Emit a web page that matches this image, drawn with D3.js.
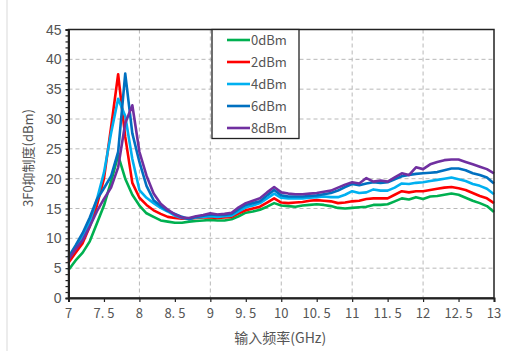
<!DOCTYPE html>
<html>
<head>
<meta charset="utf-8">
<script src="https://cdn.jsdelivr.net/npm/d3@7"></script>
<style>
  body { margin: 0; background: #fff; }
  svg { display: block; }
</style>
</head>
<body>
<div id="chart"></div>
<script>
const freqs = d3.range(0, 61).map(i => +(7 + i * 0.1).toFixed(1));
const seriesNames = ["0dBm", "2dBm", "4dBm", "6dBm", "8dBm"];
const seriesColors = ["#00b050", "#ff0000", "#00b0f0", "#0070c0", "#7030a0"];

const dBm0 = [4.7, 6.3, 7.6, 9.5, 12.5, 15.5, 19.5, 23.9, 20.0, 17.3,
  15.5, 14.2, 13.6, 13.0, 12.8, 12.6, 12.6, 12.8, 12.9, 13.0,
  13.1, 13.0, 13.0, 13.2, 13.7, 14.3, 14.5, 14.8, 15.3, 15.9,
  15.5, 15.4, 15.3, 15.5, 15.6, 15.7, 15.6, 15.4, 15.1, 15.0,
  15.1, 15.2, 15.3, 15.6, 15.6, 15.7, 16.2, 16.7, 16.5, 16.9,
  16.6, 17.0, 17.1, 17.3, 17.5, 17.3, 16.8, 16.3, 15.9, 15.4, 14.4];
const dBm2 = [5.9, 7.6, 9.2, 12.0, 15.5, 20.0, 28.6, 37.5, 27.0, 19.3,
  16.8, 15.6, 14.7, 14.1, 13.6, 13.4, 13.3, 13.3, 13.4, 13.5,
  13.5, 13.4, 13.5, 13.6, 14.2, 14.7, 15.0, 15.3, 16.0, 16.7,
  16.0, 15.9, 16.0, 16.1, 16.3, 16.4, 16.3, 16.2, 15.9, 16.0,
  16.2, 16.3, 16.6, 16.7, 16.7, 16.7, 17.3, 17.9, 17.7, 17.9,
  17.9, 18.1, 18.3, 18.5, 18.6, 18.4, 18.1, 17.6, 17.1, 16.7, 15.9];
const dBm4 = [6.7, 8.4, 10.2, 12.8, 16.5, 21.0, 27.6, 33.4, 30.5, 23.3,
  18.1, 16.8, 15.9, 15.1, 14.5, 13.8, 13.4, 13.3, 13.5, 13.6,
  13.7, 13.6, 13.7, 13.8, 14.5, 15.2, 15.5, 15.9, 16.7, 17.5,
  16.8, 16.7, 16.7, 16.7, 16.8, 16.9, 17.0, 16.9, 16.9, 17.3,
  17.9, 17.6, 17.7, 18.2, 18.0, 18.0, 18.5, 19.2, 19.1, 19.3,
  19.4, 19.6, 19.8, 20.0, 20.2, 19.9, 19.6, 19.1, 18.8, 18.3, 17.4];
const dBm6 = [6.9, 8.8, 10.9, 13.5, 16.5, 18.4, 20.4, 24.5, 37.6, 27.6,
  22.8, 18.8, 16.4, 15.4, 14.6, 14.1, 13.6, 13.2, 13.6, 13.8,
  14.0, 13.9, 13.9, 14.1, 14.9, 15.6, 15.9, 16.2, 17.2, 18.1,
  17.2, 17.0, 17.0, 17.0, 17.1, 17.2, 17.4, 17.6, 18.0, 18.6,
  19.1, 18.9, 19.2, 19.4, 19.3, 19.4, 19.9, 20.4, 20.6, 20.8,
  20.9, 21.0, 21.1, 21.4, 21.7, 21.7, 21.4, 20.9, 20.6, 20.2, 19.2];
const dBm8 = [6.4, 8.2, 9.7, 12.0, 14.5, 16.6, 18.5, 21.9, 29.3, 32.3,
  24.5, 20.5, 17.5, 15.8, 14.8, 14.0, 13.5, 13.4, 13.7, 13.9,
  14.2, 14.0, 14.1, 14.3, 15.2, 15.9, 16.3, 16.7, 17.7, 18.6,
  17.7, 17.5, 17.4, 17.4, 17.5, 17.6, 17.8, 18.0, 18.5, 19.0,
  19.4, 19.2, 20.1, 19.5, 19.7, 19.5, 20.2, 20.9, 20.6, 21.9,
  21.6, 22.4, 22.8, 23.1, 23.2, 23.2, 22.8, 22.4, 22.0, 21.6, 20.9];
const seriesValues = [dBm0, dBm2, dBm4, dBm6, dBm8];

const xTicks = d3.range(7, 13.01, 0.5);
const yTicks = d3.range(0, 46, 5);

(function () {
  const W = 509, H = 351;
  const margin = { left: 68.5, right: 494, top: 29.5, bottom: 298 };

  const svg = d3.select("#chart").append("svg")
    .attr("width", W).attr("height", H);

  // faint outer chart border on the left
  svg.append("line")
    .attr("x1", 7).attr("x2", 7).attr("y1", 0).attr("y2", H)
    .attr("stroke", "#d9d9d9");

  const x = d3.scaleLinear().domain([7, 13]).range([margin.left, margin.right]);
  const y = d3.scaleLinear().domain([0, 45]).range([margin.bottom, margin.top]);

  // grid
  svg.append("g")
    .selectAll("line")
    .data(yTicks.filter(v => v > 0 && v < 45))
    .join("line")
    .attr("x1", margin.left).attr("x2", margin.right)
    .attr("y1", d => y(d)).attr("y2", d => y(d))
    .attr("stroke", "#b8b8b8").attr("stroke-dasharray", "4,3");

  svg.append("g")
    .selectAll("line")
    .data(d3.range(8, 13))
    .join("line")
    .attr("x1", d => x(d)).attr("x2", d => x(d))
    .attr("y1", margin.top).attr("y2", margin.bottom)
    .attr("stroke", "#b8b8b8").attr("stroke-dasharray", "4,3");

  // series
  const line = d3.line()
    .x((d, i) => x(freqs[i]))
    .y(d => y(d));

  seriesValues.forEach((vals, k) => {
    svg.append("path")
      .datum(vals)
      .attr("fill", "none")
      .attr("stroke", seriesColors[k])
      .attr("stroke-width", 2.6)
      .attr("stroke-linejoin", "round")
      .attr("d", line);
  });

  // frame
  svg.append("rect")
    .attr("x", margin.left).attr("y", margin.top)
    .attr("width", margin.right - margin.left).attr("height", margin.bottom - margin.top)
    .attr("fill", "none").attr("stroke", "#222").attr("stroke-width", 1.5);

  // y axis
  const yAxis = svg.append("g")
    .attr("transform", `translate(${margin.left},0)`)
    .call(d3.axisLeft(y).tickValues(d3.range(0, 46, 1)).tickSize(3).tickFormat(""));
  yAxis.select(".domain").attr("stroke", "#222").attr("stroke-width", 2);
  yAxis.selectAll(".tick line").attr("stroke", "#222").attr("stroke-width", 1.2);

  svg.append("g")
    .selectAll("text")
    .data(yTicks)
    .join("text")
    .attr("x", margin.left - 7)
    .attr("y", d => y(d) + 5)
    .attr("text-anchor", "end")
    .attr("font-family", "Liberation Sans, Arial, sans-serif")
    .attr("font-size", 14)
    .attr("fill", "#555")
    .text(d => d);

  // x axis
  const xAxis = svg.append("g")
    .attr("transform", `translate(0,${margin.bottom})`)
    .call(d3.axisBottom(x).tickValues(xTicks).tickSize(4).tickFormat(""));
  xAxis.select(".domain").attr("stroke", "#222").attr("stroke-width", 2);
  xAxis.selectAll(".tick line").attr("stroke", "#222").attr("stroke-width", 1.2);

  svg.append("g")
    .selectAll("text")
    .data(xTicks)
    .join("text")
    .attr("x", d => x(d))
    .attr("y", margin.bottom + 20)
    .attr("text-anchor", "middle")
    .attr("font-family", "Noto Sans CJK SC, sans-serif")
    .attr("font-size", 13)
    .attr("fill", "#555")
    .text(d => String(d).replace(".", ". "));

  // axis titles
  svg.append("text")
    .attr("x", (margin.left + margin.right) / 2 - 1)
    .attr("y", 343)
    .attr("text-anchor", "middle")
    .attr("font-family", "Noto Sans CJK SC, sans-serif")
    .attr("font-size", 14)
    .attr("fill", "#555")
    .text("输入频率(GHz)");

  svg.append("text")
    .attr("transform", "translate(33,158) rotate(-90)")
    .attr("text-anchor", "middle")
    .attr("font-family", "Noto Sans CJK SC, sans-serif")
    .attr("font-size", 13)
    .attr("fill", "#555")
    .text("3F0抑制度(dBm)");

  // legend
  const legend = svg.append("g");
  legend.append("rect")
    .attr("x", 212).attr("y", margin.top)
    .attr("width", 87).attr("height", 109)
    .attr("fill", "#fff").attr("stroke", "#222").attr("stroke-width", 1.3);

  const legendY = d3.scalePoint().domain(seriesNames).range([40, 128]);
  seriesNames.forEach((name, k) => {
    legend.append("line")
      .attr("x1", 227).attr("x2", 250)
      .attr("y1", legendY(name)).attr("y2", legendY(name))
      .attr("stroke", seriesColors[k]).attr("stroke-width", 2.6);
    legend.append("text")
      .attr("x", 251).attr("y", legendY(name) + 5)
      .attr("font-family", "Noto Sans CJK SC, sans-serif")
      .attr("font-size", 13)
      .attr("fill", "#555")
      .text(name);
  });
})();
</script>
</body>
</html>
